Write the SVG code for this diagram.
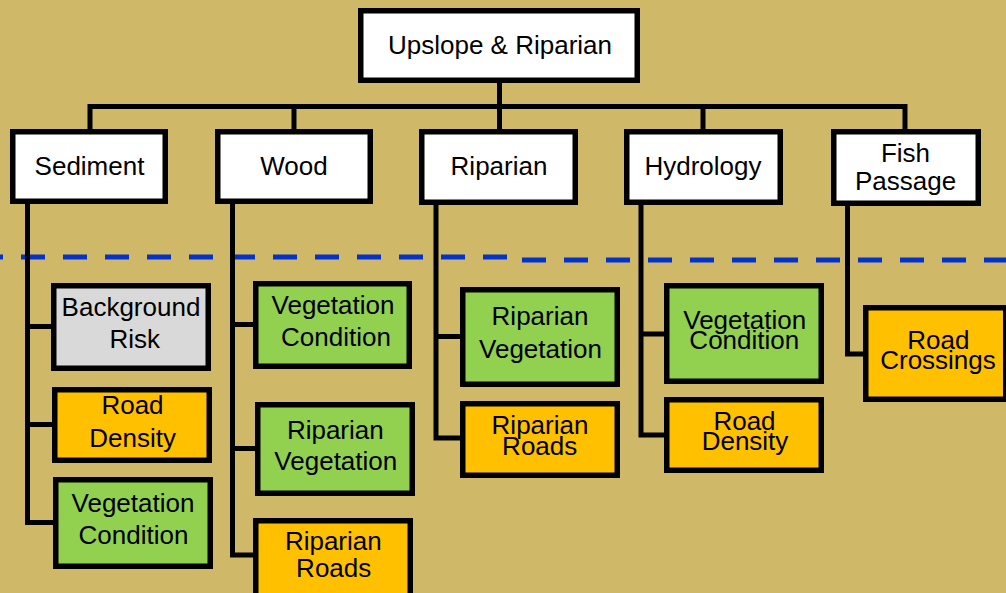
<svg xmlns="http://www.w3.org/2000/svg" width="1006" height="593" viewBox="0 0 1006 593">
<style>
.box{stroke:#000;stroke-width:5.5;stroke-linejoin:miter}
.w{fill:#FFFFFF}.g{fill:#92D050}.o{fill:#FFC000}.s{fill:#D9D9D9}
.c{fill:none;stroke:#000;stroke-width:5;stroke-linejoin:miter}
text{font-family:"Liberation Sans",Arial,sans-serif;font-size:26px;fill:#000;text-anchor:middle}
.d{fill:none;stroke:#0433CC;stroke-width:5;stroke-dasharray:24 18}
</style>
<rect x="0" y="0" width="1006" height="593" fill="#CFB969"/>
<g id="divider">
<path class="d" d="M0 257 H508" stroke-dashoffset="21"/>
<path class="d" d="M522 260 H1006"/>
</g>
<g id="connectors">
<path class="c" d="M499.5 83 V129"/>
<path class="c" d="M90 129 V106.5 H905 V129"/>
<path class="c" d="M294 106.5 V129"/>
<path class="c" d="M703 106.5 V129"/>
<path class="c" d="M27.5 204 V522.5 H54 M27.5 326.5 H52 M27.5 424.5 H53"/>
<path class="c" d="M232.5 204 V555 H254 M232.5 324.5 H254 M232.5 448.5 H256"/>
<path class="c" d="M436 205 V438 H461 M436 336.5 H461"/>
<path class="c" d="M641 205 V435 H665 M641 334 H665"/>
<path class="c" d="M847.5 206 V354 H864"/>
</g>
<g id="root"><rect class="box w" x="360.75" y="10.75" width="276.5" height="69.5"/><text x="500" y="53.5">Upslope &amp; Riparian</text></g>
<g id="sediment"><rect class="box w" x="12.75" y="131.75" width="152.5" height="69.5"/><text x="89.5" y="175">Sediment</text></g>
<g id="wood"><rect class="box w" x="217.75" y="131.75" width="152.5" height="69.5"/><text x="294" y="175">Wood</text></g>
<g id="riparian"><rect class="box w" x="421.75" y="131.75" width="153.5" height="70.5"/><text x="499" y="175">Riparian</text></g>
<g id="hydrology"><rect class="box w" x="626.75" y="131.75" width="153.5" height="70.5"/><text x="703" y="175">Hydrology</text></g>
<g id="fish"><rect class="box w" x="833.75" y="131.75" width="144.5" height="71.5"/><text x="905.5" y="161.5">Fish</text><text x="905.5" y="190">Passage</text></g>
<g id="sed-bg"><rect class="box s" x="53.75" y="285.75" width="154.5" height="82.5"/><text x="131" y="316">Background</text><text x="134.7" y="348">Risk</text></g>
<g id="sed-rd"><rect class="box o" x="54.75" y="389.75" width="154.5" height="70.5"/><text x="132.5" y="413.5">Road</text><text x="132.7" y="446.5">Density</text></g>
<g id="sed-vc"><rect class="box g" x="55.75" y="479.75" width="154.5" height="86.5"/><text x="133" y="511.5">Vegetation</text><text x="133.5" y="544">Condition</text></g>
<g id="wood-vc"><rect class="box g" x="255.75" y="283.75" width="153.5" height="82.5"/><text x="333" y="313.5">Vegetation</text><text x="336" y="346">Condition</text></g>
<g id="wood-rv"><rect class="box g" x="257.75" y="404.75" width="154.5" height="88.5"/><text x="335.3" y="438.5">Riparian</text><text x="335.8" y="469.5">Vegetation</text></g>
<g id="wood-rr"><rect class="box o" x="255.75" y="520.75" width="154.5" height="85"/><text x="333.3" y="549.5">Riparian</text><text x="333.7" y="576.5">Roads</text></g>
<g id="rip-rv"><rect class="box g" x="462.75" y="289.75" width="154.5" height="94.5"/><text x="540" y="325">Riparian</text><text x="540.5" y="358">Vegetation</text></g>
<g id="rip-rr"><rect class="box o" x="462.75" y="403.75" width="154.5" height="71.5"/><text x="540" y="433.5">Riparian</text><text x="539.7" y="455">Roads</text></g>
<g id="hyd-vc"><rect class="box g" x="666.75" y="285.75" width="154.5" height="95.5"/><text x="744.7" y="328.5">Vegetation</text><text x="744.3" y="349">Condition</text></g>
<g id="hyd-rd"><rect class="box o" x="666.75" y="399.75" width="154.5" height="70.5"/><text x="744.5" y="429.5">Road</text><text x="745" y="450">Density</text></g>
<g id="fish-rc"><rect class="box o" x="865.75" y="307.75" width="140" height="91.5"/><text x="938.3" y="348.5">Road</text><text x="938" y="369">Crossings</text></g>
</svg>
